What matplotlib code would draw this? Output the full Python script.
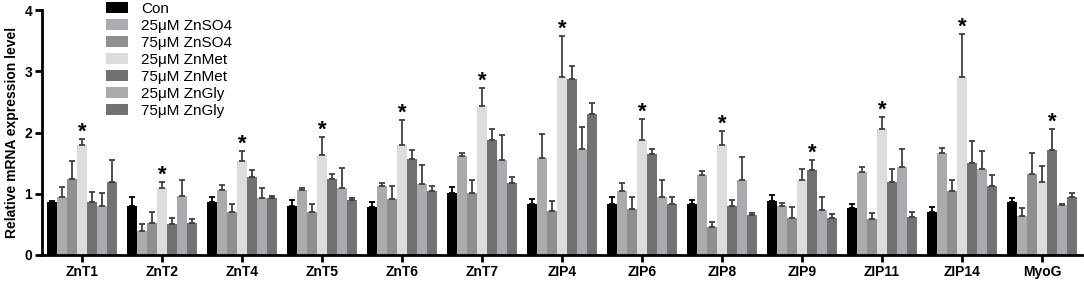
import numpy as np
import matplotlib
matplotlib.use('Agg')
import matplotlib.pyplot as plt

genes = ['ZnT1', 'ZnT2', 'ZnT4', 'ZnT5', 'ZnT6', 'ZnT7', 'ZIP4', 'ZIP6',
         'ZIP8', 'ZIP9', 'ZIP11', 'ZIP14', 'MyoG']
groups = ['Con', '25\u03bcM ZnSO4', '75\u03bcM ZnSO4', '25\u03bcM ZnMet',
          '75\u03bcM ZnMet', '25\u03bcM ZnGly', '75\u03bcM ZnGly']

con = [0.87, 0.80, 0.86, 0.80, 0.79, 1.01, 0.84, 0.84, 0.84, 0.875, 0.77, 0.70, 0.865]
con_err = [0.01, 0.14, 0.09, 0.10, 0.07, 0.10, 0.08, 0.10, 0.06, 0.10, 0.07, 0.08, 0.07]
so4_25 = [0.94, 0.39, 1.065, 1.055, 1.12, 1.61, 1.59, 1.04, 1.30, 0.80, 1.35, 1.67, 0.64]
so4_25_err = [0.17, 0.12, 0.085, 0.045, 0.06, 0.05, 0.39, 0.13, 0.07, 0.05, 0.09, 0.075, 0.13]
so4_75 = [1.245, 0.53, 0.71, 0.70, 0.92, 1.02, 0.72, 0.75, 0.46, 0.61, 0.59, 1.05, 1.32]
so4_75_err = [0.285, 0.18, 0.13, 0.14, 0.21, 0.20, 0.16, 0.20, 0.08, 0.18, 0.095, 0.18, 0.35]
met_25 = [1.80, 1.10, 1.53, 1.63, 1.80, 2.44, 2.91, 1.88, 1.79, 1.23, 2.055, 2.91, 1.19]
met_25_err = [0.10, 0.09, 0.17, 0.29, 0.40, 0.29, 0.67, 0.34, 0.24, 0.18, 0.195, 0.70, 0.27]
met_75 = [0.865, 0.50, 1.28, 1.24, 1.57, 1.88, 2.87, 1.65, 0.80, 1.38, 1.185, 1.50, 1.72]
met_75_err = [0.165, 0.11, 0.10, 0.09, 0.15, 0.17, 0.22, 0.08, 0.09, 0.175, 0.215, 0.365, 0.34]
gly_25 = [0.80, 0.97, 0.93, 1.10, 1.16, 1.555, 1.73, 0.95, 1.23, 0.73, 1.435, 1.41, 0.815]
gly_25_err = [0.21, 0.25, 0.16, 0.32, 0.31, 0.405, 0.36, 0.27, 0.37, 0.22, 0.295, 0.29, 0.025]
gly_75 = [1.20, 0.53, 0.93, 0.89, 1.05, 1.17, 2.30, 0.84, 0.66, 0.61, 0.625, 1.12, 0.95]
gly_75_err = [0.35, 0.06, 0.03, 0.04, 0.08, 0.11, 0.18, 0.10, 0.03, 0.06, 0.075, 0.185, 0.07]

# which group carries the asterisk for each gene
star_group = [3, 3, 3, 3, 3, 3, 3, 3, 3, 4, 3, 3, 4]

means = [con, so4_25, so4_75, met_25, met_75, gly_25, gly_75]
errs = [con_err, so4_25_err, so4_75_err, met_25_err, met_75_err, gly_25_err, gly_75_err]
colors = ['#000000', '#aaaaaf', '#8f8f8f', '#dcdcdc', '#717171', '#a9a9ae', '#727272']

plt.rcParams['font.family'] = ['Liberation Sans', 'DejaVu Sans']

fig = plt.figure(figsize=(10.84, 2.85), dpi=100)
ax = fig.add_axes([42 / 1084, 1 - 255 / 285, 1040 / 1084, 245 / 285])

x = np.arange(len(genes))
width = 0.125
for i in range(len(groups)):
    pos = x + (i - 3) * width
    m = np.array(means[i])
    e = np.array(errs[i])
    ax.bar(pos, m, width=width, color=colors[i], label=groups[i], zorder=2)
    ecol = '#000000' if i == 0 else '#404040'
    ax.errorbar(pos, m, yerr=[np.zeros_like(e), e], fmt='none', ecolor=ecol,
                elinewidth=1.3, capsize=2.3, capthick=1.3, zorder=3)

for g, s in enumerate(star_group):
    top = means[s][g] + errs[s][g]
    ax.text(x[g] + (s - 3) * width, top + 0.02, '*', ha='center', va='baseline',
            fontsize=16, fontweight='bold', color='black')

ax.set_xlim(-0.5, 12.5)
ax.set_ylim(0, 4)
ax.set_yticks([0, 1, 2, 3, 4])
ax.set_xticks(x)
ax.set_xticklabels(genes, fontweight='bold', fontsize=10)
for lab in ax.get_yticklabels():
    lab.set_fontweight('bold')
    lab.set_fontsize(10)
ax.set_ylabel('Relative mRNA expression level', fontweight='bold', fontsize=10, labelpad=4)

for side in ['top', 'right']:
    ax.spines[side].set_visible(False)
for side in ['left', 'bottom']:
    ax.spines[side].set_linewidth(2)
ax.tick_params(axis='both', width=2, length=5, direction='out', pad=2)

ax.legend(loc='upper left', bbox_to_anchor=(104 / 1084, 1.0), bbox_transform=fig.transFigure,
          frameon=False, fontsize=11, handlelength=1.5, handleheight=0.72,
          handletextpad=0.85, labelspacing=0.2, borderaxespad=0, borderpad=0.1)

fig.savefig('out.png', dpi=100)
